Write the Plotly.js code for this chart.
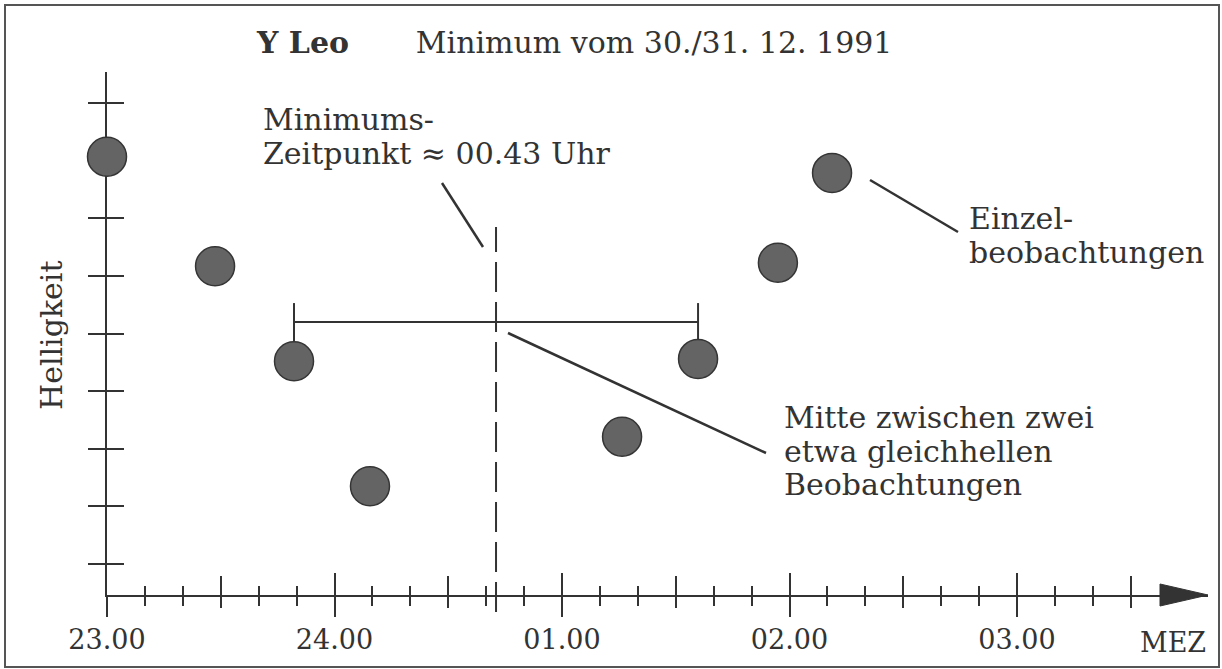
<!DOCTYPE html>
<html>
<head>
<meta charset="utf-8">
<script src="https://cdn.plot.ly/plotly-3.0.1.min.js"></script>
<style>
  html, body { margin: 0; padding: 0; background: #ffffff; }
  #chart { width: 1222px; height: 669px; }
</style>
</head>
<body>
<div id="chart"></div>
<script>
// ---------------- data ----------------
// observation time in hours (24.xx = after midnight, 31.12.)
const obsTime = [23.000, 23.475, 23.822, 24.156, 25.264, 25.598, 25.949, 26.187];
// brightness (arbitrary units, no scale given)
const obsBrightness = [8.07, 6.17, 4.52, 2.35, 3.21, 4.56, 6.23, 7.79];
// indices of the two roughly equally bright observations
const pairIdx = [2, 5];
const pairBarLevel = 5.20;
const pairCapTop = 5.53;

const hourTicks = [23, 24, 25, 26, 27];
const hourLabels = ['23.00', '24.00', '01.00', '02.00', '03.00'];
const halfHourTicks = [23.5, 24.5, 25.5, 26.5, 27.5];
const tenMinTicks = [];
for (let h = 23; h < 27.6; h += 0.5) {
  [1, 2].forEach(k => tenMinTicks.push(+(h + k / 6).toFixed(4)));
}
const tenMinShown = tenMinTicks.filter(v => v < 27.5);
const brightTicks = [1, 2, 3, 4, 5, 6, 7, 8, 9];

// ---------------- layout geometry ----------------
const L = 107, R = 1208, T = 72, B = 595;
const W = R - L, H = B - T;
const xRange = [23, 23 + W / 227.5];
const yRange = [1 - (B - 564) / 57.6, 1 + (564 - T) / 57.6];
const px2x = px => (px - L) / W;
const py2y = py => (B - py) / H;

const FONT = 'DejaVu Serif';
const INK = '#333333';
const FS = 30;

function lab(text, xLeft, baseline, opts) {
  opts = opts || {};
  const fs = opts.size || FS;
  return Object.assign({
    text: text,
    xref: 'paper', yref: 'paper',
    x: px2x(xLeft), y: py2y(baseline - 0.346 * fs),
    xanchor: 'left', yanchor: 'middle',
    showarrow: false, borderpad: 0,
    font: { family: FONT, size: fs, color: INK }
  }, opts.extra || {});
}

const midTime = (obsTime[pairIdx[0]] + obsTime[pairIdx[1]]) / 2;

const traces = [
  {
    type: 'scatter', mode: 'markers',
    x: obsTime, y: obsBrightness,
    cliponaxis: false,
    marker: { size: 39, color: '#646464', line: { color: '#353535', width: 1.5 } },
    hoverinfo: 'skip', showlegend: false
  },
  { type: 'scatter', x: [], y: [], xaxis: 'x2', yaxis: 'y', showlegend: false },
  { type: 'scatter', x: [], y: [], xaxis: 'x3', yaxis: 'y', showlegend: false },
  { type: 'scatter', x: [], y: [], xaxis: 'x', yaxis: 'y2', showlegend: false }
];

const common = {
  range: xRange, showgrid: false, zeroline: false, fixedrange: true,
  tickcolor: INK, tickwidth: 2, layer: 'below traces'
};

const nb = '\u00A0';
const layout = {
  width: 1222, height: 669,
  margin: { l: L, r: 1222 - R, t: T, b: 669 - B, pad: 0 },
  paper_bgcolor: '#ffffff', plot_bgcolor: 'rgba(0,0,0,0)',
  showlegend: false,
  title: {
    text: '<b>Y Leo</b>' + nb.repeat(7) + 'Minimum vom 30./31. 12. 1991',
    xref: 'container', yref: 'container',
    x: 257 / 1222, xanchor: 'left',
    y: 1 - (53 - 0.346 * FS) / 669, yanchor: 'middle',
    font: { family: FONT, size: FS, color: INK }
  },
  xaxis: Object.assign({}, common, {
    showline: true, linecolor: INK, linewidth: 2,
    tickmode: 'array', tickvals: hourTicks, ticktext: hourLabels,
    ticks: 'outside', ticklen: 20,
    tickfont: { family: FONT, size: 27, color: INK },
    minor: { tickmode: 'array', tickvals: tenMinShown, ticks: 'outside', ticklen: 9, tickwidth: 2, tickcolor: INK, showgrid: false }
  }),
  xaxis2: Object.assign({}, common, {
    overlaying: 'x', anchor: 'y', side: 'bottom', showline: false,
    tickmode: 'array', tickvals: hourTicks, ticks: 'inside', ticklen: 22, showticklabels: false,
    minor: { tickmode: 'array', tickvals: halfHourTicks, ticks: 'inside', ticklen: 19, tickwidth: 2, tickcolor: INK, showgrid: false }
  }),
  xaxis3: Object.assign({}, common, {
    overlaying: 'x', anchor: 'y', side: 'bottom', showline: false,
    tickmode: 'array', tickvals: halfHourTicks, ticks: 'outside', ticklen: 12, showticklabels: false,
    minor: { tickmode: 'array', tickvals: tenMinShown, ticks: 'inside', ticklen: 9, tickwidth: 2, tickcolor: INK, showgrid: false }
  }),
  yaxis: {
    range: yRange, showgrid: false, zeroline: false, fixedrange: true, layer: 'below traces',
    showline: true, linecolor: INK, linewidth: 2,
    tickmode: 'array', tickvals: brightTicks, ticks: 'outside', ticklen: 17,
    tickcolor: INK, tickwidth: 2, showticklabels: false
  },
  yaxis2: {
    overlaying: 'y', anchor: 'x', side: 'left', layer: 'below traces',
    range: yRange, showgrid: false, zeroline: false, fixedrange: true, showline: false,
    tickmode: 'array', tickvals: brightTicks, ticks: 'inside', ticklen: 17,
    tickcolor: INK, tickwidth: 2, showticklabels: false
  },
  shapes: [
    // frame
    { type: 'rect', xref: 'paper', yref: 'paper',
      x0: px2x(5), x1: px2x(1219), y0: py2y(667), y1: py2y(5),
      line: { color: '#555555', width: 2 }, layer: 'below' },
    // arrow head of the time axis
    { type: 'path', xref: 'paper', yref: 'paper',
      path: 'M ' + px2x(1160) + ',' + py2y(584) + ' L ' + px2x(1208) + ',' + py2y(595) + ' L ' + px2x(1160) + ',' + py2y(606) + ' Z',
      fillcolor: INK, line: { color: INK, width: 1 } },
    // dashed line at the time of minimum
    { type: 'line', xref: 'x', yref: 'paper', x0: midTime, x1: midTime, y0: py2y(612), y1: py2y(227),
      line: { color: INK, width: 2, dash: '30px,10px' } },
    // horizontal bar between the two equally bright observations
    { type: 'line', xref: 'x', yref: 'y', x0: obsTime[pairIdx[0]], x1: obsTime[pairIdx[1]], y0: pairBarLevel, y1: pairBarLevel,
      line: { color: INK, width: 2 }, layer: 'below' },
    { type: 'line', xref: 'x', yref: 'y', x0: obsTime[pairIdx[0]], x1: obsTime[pairIdx[0]], y0: pairCapTop, y1: obsBrightness[pairIdx[0]],
      line: { color: INK, width: 2 }, layer: 'below' },
    { type: 'line', xref: 'x', yref: 'y', x0: obsTime[pairIdx[1]], x1: obsTime[pairIdx[1]], y0: pairCapTop, y1: obsBrightness[pairIdx[1]],
      line: { color: INK, width: 2 }, layer: 'below' },
    // leader lines of the callouts
    { type: 'line', xref: 'x', yref: 'y', x0: 24.4725, y0: 7.615, x1: 24.6527, y1: 6.503, line: { color: INK, width: 2.5 } },
    { type: 'line', xref: 'x', yref: 'y', x0: 26.354, y0: 7.667, x1: 26.7407, y1: 6.764, line: { color: INK, width: 2.5 } },
    { type: 'line', xref: 'x', yref: 'y', x0: 24.7626, y0: 5.0104, x1: 25.8967, y1: 2.927, line: { color: INK, width: 2.5 } }
  ],
  annotations: [
    lab('Minimums-', 262, 130),
    lab('Zeitpunkt ≈ 00.43 Uhr', 262, 164),
    lab('Einzel-', 968, 229),
    lab('beobachtungen', 968, 263),
    lab('Mitte zwischen zwei', 783, 428),
    lab('etwa gleichhellen', 783, 462),
    lab('Beobachtungen', 783, 495),
    lab('MEZ', 1207, 652, { size: 27, extra: { xanchor: 'right' } }),
    {
      text: 'Helligkeit', xref: 'paper', yref: 'paper',
      x: px2x(51), y: py2y(335), xanchor: 'center', yanchor: 'middle',
      textangle: -90, showarrow: false, borderpad: 0,
      font: { family: FONT, size: FS, color: INK }
    }
  ]
};

Plotly.newPlot('chart', traces, layout, { displayModeBar: false, staticPlot: true });
</script>
</body>
</html>
